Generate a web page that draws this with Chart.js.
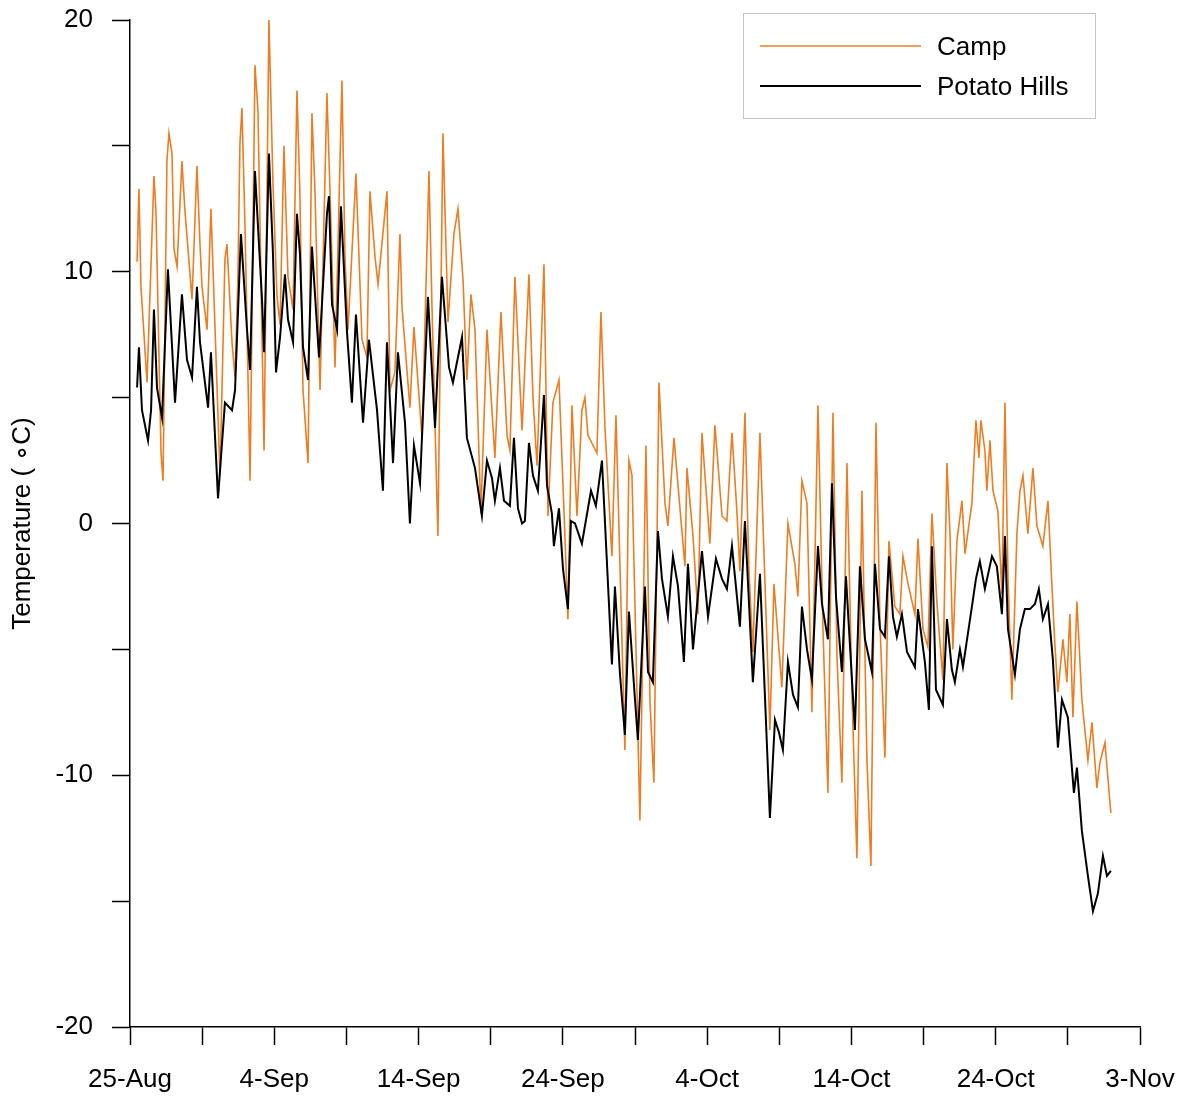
<!DOCTYPE html>
<html>
<head>
<meta charset="utf-8">
<script src="https://cdn.jsdelivr.net/npm/chart.js@4.4.1/dist/chart.umd.min.js"></script>
<style>
  html, body { margin: 0; padding: 0; background: #fff; }
  #wrap { width: 1189px; height: 1098px; }
</style>
</head>
<body>
<div id="wrap"><canvas id="chart" width="1189" height="1098"></canvas></div>
<script>
// days since 25-Aug
const dateLabels = ['25-Aug', '4-Sep', '14-Sep', '24-Sep', '4-Oct', '14-Oct', '24-Oct', '3-Nov'];

const campDays = [
  0.49, 0.62, 0.76, 1.18, 1.66, 1.80, 2.15, 2.29, 2.56, 2.70, 2.91, 3.05, 3.26, 3.60, 3.81, 4.30,
  4.64, 4.85, 4.99, 5.34, 5.61, 5.89, 6.24, 6.58, 6.72, 7.07, 7.28, 7.48, 7.62, 7.76, 7.97, 8.32,
  8.66, 8.87, 9.29, 9.63, 9.91, 10.19, 10.40, 10.67, 10.95, 11.30, 11.57, 11.78, 11.99, 12.34, 12.61, 12.82,
  13.17, 13.65, 13.86, 14.21, 14.69, 14.90, 15.11, 15.66, 16.08, 16.42, 16.63, 16.98, 17.19, 17.81, 18.02, 18.36,
  18.71, 18.85, 19.40, 19.68, 20.24, 20.72, 20.93, 21.34, 21.69, 22.04, 22.45, 22.73, 23.08, 23.35, 23.63, 23.91,
  24.32, 24.74, 25.29, 25.71, 26.13, 26.33, 26.68, 27.17, 27.65, 27.93, 28.21, 28.69, 28.97, 29.31, 29.73, 30.15,
  30.35, 30.63, 30.98, 31.32, 31.53, 31.74, 32.36, 32.64, 32.92, 33.40, 33.68, 34.30, 34.58, 34.79, 35.34, 35.76,
  36.04, 36.31, 36.66, 37.08, 37.28, 37.70, 38.46, 38.60, 39.02, 39.36, 39.64, 40.19, 40.54, 41.03, 41.37, 41.72,
  42.06, 42.27, 42.62, 42.90, 43.17, 43.66, 44.35, 44.63, 45.18, 45.60, 46.08, 46.29, 46.57, 46.92, 47.26, 47.68,
  48.02, 48.37, 48.72, 49.00, 49.34, 49.69, 50.03, 50.38, 50.73, 51.07, 51.35, 51.70, 51.98, 52.32, 52.60, 53.01,
  53.36, 53.57, 53.92, 54.40, 54.61, 54.96, 55.30, 55.58, 55.93, 56.34, 56.62, 56.83, 57.03, 57.31, 57.66, 57.87,
  58.35, 58.63, 58.84, 58.97, 59.25, 59.39, 59.60, 59.81, 60.15, 60.43, 60.64, 60.85, 61.12, 61.47, 61.68, 61.89,
  62.23, 62.58, 62.86, 63.27, 63.62, 63.89, 64.10, 64.31, 64.66, 64.93, 65.14, 65.35, 65.63, 65.97, 66.39, 66.67,
  67.01, 67.22, 67.57, 67.98
];
const campTemps = [
  10.4, 13.3, 9.4, 5.6, 13.8, 12.4, 2.8, 1.7, 14.4, 15.5, 14.7, 10.9, 10.2, 14.4, 12.4, 8.9,
  14.2, 11.1, 9.4, 7.7, 12.5, 7.8, 1.9, 10.5, 11.1, 7.2, 5.8, 9.8, 15.1, 16.5, 11.8, 1.7,
  18.2, 16.4, 2.9, 20.0, 13.5, 9.0, 7.9, 15.0, 9.8, 8.5, 17.2, 13.0, 5.3, 2.4, 16.3, 13.2,
  5.3, 17.1, 13.2, 6.2, 17.6, 10.6, 7.7, 13.9, 7.3, 6.6, 13.2, 10.6, 9.5, 13.2, 5.3, 6.0,
  11.5, 8.6, 4.6, 7.8, 3.4, 14.0, 8.6, -0.5, 15.5, 8.0, 11.5, 12.5, 9.7, 5.7, 9.1, 7.7,
  0.4, 7.7, 2.6, 8.4, 3.5, 2.9, 9.8, 3.7, 9.9, 5.0, 2.3, 10.3, 0.3, 4.8, 5.7, -0.6,
  -3.8, 4.7, 0.3, 4.5, 5.0, 3.5, 2.8, 8.4, 3.8, -1.3, 4.3, -9.0, 2.5, 1.9, -11.8, 3.1,
  -7.1, -10.3, 5.6, 0.8, -0.1, 3.4, -1.7, 2.2, -0.5, -3.6, 3.6, -0.8, 3.9, 0.3, 0.1, 3.6,
  0.5, -1.9, 4.4, -1.9, -5.1, 3.6, -8.2, -2.4, -6.5, 0.0, -1.6, -2.9, 1.7, 0.8, -7.5, 4.7,
  -4.0, -10.7, 4.4, -5.3, -10.3, 2.4, -6.6, -13.3, 1.3, -9.3, -13.6, 4.0, -4.0, -9.3, -0.7, -3.3,
  -3.6, -1.3, -2.4, -3.6, -0.6, -4.2, -4.9, 0.4, -3.2, -6.2, 2.4, -0.4, -5.0, -0.7, 0.9, -1.2,
  0.8, 4.1, 2.6, 4.1, 2.9, 1.3, 3.3, 1.3, 0.5, -2.8, 4.8, -2.1, -7.0, -0.4, 1.3, 1.9,
  -0.4, 2.2, -0.1, -0.9, 0.9, -2.4, -4.8, -6.7, -4.6, -6.3, -3.6, -7.7, -3.1, -7.0, -9.4, -7.9,
  -10.5, -9.5, -8.7, -11.5
];

const potatoDays = [
  0.49, 0.62, 0.83, 1.25, 1.46, 1.66, 1.87, 2.22, 2.63, 3.12, 3.60, 3.95, 4.30, 4.64, 4.85, 5.41,
  5.61, 6.10, 6.58, 7.07, 7.28, 7.69, 8.11, 8.32, 8.66, 9.15, 9.29, 9.63, 9.91, 10.12, 10.40, 10.74,
  10.95, 11.30, 11.57, 11.78, 11.99, 12.34, 12.61, 13.10, 13.65, 13.79, 14.00, 14.35, 14.62, 15.04, 15.38, 15.66,
  16.15, 16.56, 17.12, 17.53, 17.81, 18.23, 18.57, 19.06, 19.40, 19.68, 20.10, 20.65, 21.14, 21.62, 22.11, 22.38,
  23.01, 23.35, 23.91, 24.39, 24.74, 25.09, 25.29, 25.64, 25.92, 26.33, 26.61, 26.89, 27.17, 27.37, 27.65, 27.93,
  28.27, 28.69, 28.90, 29.24, 29.38, 29.73, 30.01, 30.35, 30.56, 30.84, 31.32, 31.95, 32.29, 32.71, 33.40, 33.61,
  33.96, 34.30, 34.58, 35.00, 35.20, 35.69, 35.90, 36.24, 36.59, 36.87, 37.28, 37.63, 37.98, 38.39, 38.67, 39.02,
  39.64, 40.06, 40.61, 41.03, 41.37, 41.72, 42.27, 42.62, 43.17, 43.66, 44.35, 44.70, 44.98, 45.25, 45.60, 45.95,
  46.29, 46.57, 46.92, 47.26, 47.68, 47.96, 48.37, 48.65, 48.93, 49.34, 49.62, 50.24, 50.59, 50.94, 51.42, 51.63,
  51.98, 52.32, 52.60, 52.88, 53.15, 53.50, 53.85, 54.40, 54.61, 55.09, 55.37, 55.58, 55.86, 56.34, 56.62, 56.96,
  57.17, 57.52, 57.73, 58.35, 58.63, 58.90, 59.25, 59.74, 60.08, 60.43, 60.64, 60.85, 61.33, 61.68, 62.02, 62.37,
  62.72, 62.99, 63.27, 63.62, 63.96, 64.31, 64.59, 65.00, 65.42, 65.63, 65.97, 66.39, 66.74, 67.08, 67.43, 67.71,
  67.98
];
const potatoTemps = [
  5.4, 7.0, 4.5, 3.3, 4.5, 8.5, 5.4, 4.2, 10.1, 4.8, 9.1, 6.5, 5.8, 9.4, 7.2, 4.6,
  6.8, 1.0, 4.8, 4.5, 5.3, 11.5, 7.7, 6.1, 14.0, 8.9, 6.8, 14.7, 10.7, 6.0, 7.4, 9.9,
  8.1, 7.2, 12.3, 10.7, 7.0, 5.7, 11.0, 6.6, 12.3, 13.0, 8.7, 7.7, 12.6, 7.6, 4.8, 8.3,
  4.0, 7.3, 4.5, 1.3, 7.2, 2.4, 6.8, 4.0, 0.0, 3.1, 1.6, 9.0, 3.8, 9.8, 6.2, 5.6,
  7.4, 3.4, 2.2, 0.3, 2.5, 1.8, 0.9, 2.2, 0.9, 0.7, 3.4, 0.6, 0.0, 0.1, 3.2, 1.9,
  1.3, 5.1, 1.5, 0.4, -0.9, 0.6, -1.8, -3.4, 0.1, 0.0, -0.8, 1.3, 0.7, 2.5, -5.6, -2.5,
  -6.0, -8.4, -3.5, -7.0, -8.6, -2.5, -5.9, -6.3, -0.3, -2.2, -3.7, -1.3, -2.5, -5.5, -1.6, -5.0,
  -1.1, -3.7, -1.4, -2.2, -2.6, -0.9, -4.1, 0.1, -6.3, -2.0, -11.7, -7.8, -8.3, -9.0, -5.5, -6.8,
  -7.3, -3.3, -5.0, -6.2, -0.9, -3.2, -4.6, 1.6, -2.9, -5.9, -2.1, -8.2, -1.7, -4.6, -5.9, -1.6,
  -4.2, -4.5, -1.3, -3.7, -4.5, -3.6, -5.1, -5.7, -3.4, -5.5, -7.4, -0.9, -6.6, -7.2, -3.8, -5.8,
  -6.3, -5.0, -5.7, -3.3, -2.2, -1.5, -2.6, -1.3, -1.7, -3.6, -0.5, -4.2, -6.0, -4.2, -3.4, -3.4,
  -3.2, -2.6, -3.8, -3.2, -5.4, -8.9, -7.0, -7.7, -10.7, -9.7, -12.2, -14.0, -15.4, -14.7, -13.2, -14.0,
  -13.8
];

const campColor = '#EE7D22';
const potatoColor = '#000000';

function toPoints(xs, ys) {
    return xs.map(function (x, i) { return { x: x, y: ys[i] }; });
}

// legend box drawn inside the plot, top right
const boxLegend = {
    id: 'boxLegend',
    afterDraw: function (chart) {
        const ctx = chart.ctx;
        ctx.save();
        ctx.strokeStyle = '#c4c4c4';
        ctx.lineWidth = 1;
        ctx.strokeRect(743.5, 13.5, 352, 105);
        ctx.font = '26px "Liberation Sans", Arial, sans-serif';
        ctx.textBaseline = 'middle';
        ctx.fillStyle = '#000';
        chart.data.datasets.forEach(function (ds, i) {
            const y = 46 + i * 40;
            ctx.beginPath();
            ctx.strokeStyle = ds.borderColor;
            ctx.lineWidth = ds.legendWidth;
            ctx.moveTo(760, y);
            ctx.lineTo(921, y);
            ctx.stroke();
            ctx.fillText(ds.label, 937, y + 2);
        });
        ctx.restore();
    }
};

Chart.defaults.font.family = '"Liberation Sans", Arial, sans-serif';
Chart.defaults.font.size = 26;
Chart.defaults.color = '#000';

new Chart(document.getElementById('chart'), {
    type: 'line',
    data: {
        datasets: [
            {
                label: 'Camp',
                data: toPoints(campDays, campTemps),
                borderColor: campColor,
                borderWidth: 1.6,
                legendWidth: 1.6,
                pointRadius: 0,
                tension: 0,
                fill: false,
                order: 2
            },
            {
                label: 'Potato Hills',
                data: toPoints(potatoDays, potatoTemps),
                borderColor: potatoColor,
                borderWidth: 2,
                legendWidth: 2,
                pointRadius: 0,
                tension: 0,
                fill: false,
                order: 1
            }
        ]
    },
    options: {
        responsive: false,
        animation: false,
        layout: { padding: { top: 20, right: 49, left: 0, bottom: 0 } },
        plugins: { legend: { display: false }, tooltip: { enabled: false } },
        scales: {
            x: {
                type: 'linear',
                min: 0,
                max: 70,
                afterFit: function (scale) {
                    scale.height = 71;
                    scale.paddingLeft = 0;
                    scale.paddingRight = 0;
                },
                ticks: {
                    stepSize: 5,
                    autoSkip: false,
                    maxRotation: 0,
                    padding: 19,
                    callback: function (v) { return v % 10 === 0 ? dateLabels[v / 10] : ''; }
                },
                grid: { drawOnChartArea: false, tickLength: 18, tickColor: '#000', tickWidth: 1.5 },
                border: { display: true, color: '#000', width: 1.5 }
            },
            y: {
                min: -20,
                max: 20,
                afterFit: function (scale) {
                    scale.width = 130;
                    scale.paddingTop = 0;
                    scale.paddingBottom = 0;
                },
                ticks: {
                    stepSize: 5,
                    padding: 19,
                    callback: function (v) { return v % 10 === 0 ? String(v) : ''; }
                },
                grid: { drawOnChartArea: false, tickLength: 18, tickColor: '#000', tickWidth: 1.5 },
                border: { display: true, color: '#000', width: 1.5 },
                title: {
                    display: true,
                    text: 'Temperature ( \u2218C)',
                    font: { size: 26 },
                    padding: { top: 7, bottom: 0 }
                }
            }
        }
    },
    plugins: [boxLegend]
});
</script>
</body>
</html>
